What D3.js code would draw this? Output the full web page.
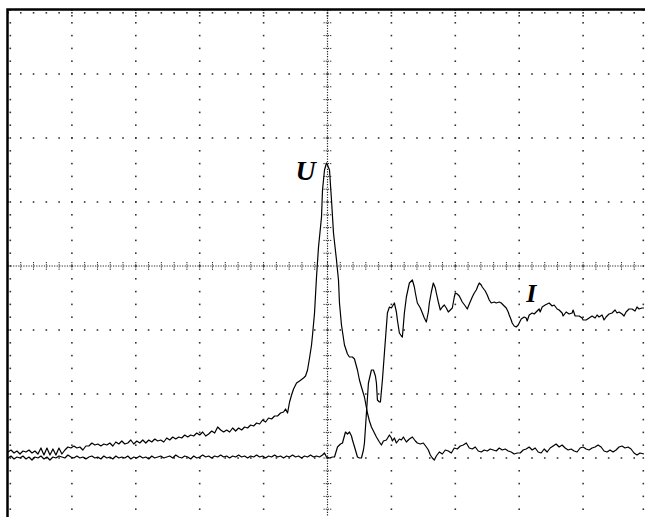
<!DOCTYPE html>
<html>
<head>
<meta charset="utf-8">
<script src="https://cdnjs.cloudflare.com/ajax/libs/d3/7.8.5/d3.min.js"></script>
<style>
  body { margin: 0; background: #fff; overflow: hidden; }
  .trace { fill: none; stroke: #000; stroke-width: 1.2; stroke-linejoin: round; }
  .trace-label { font-family: "Liberation Serif", "Times New Roman", serif; font-style: italic; font-weight: bold; fill: #000; }
  .frame { fill: none; stroke: #000; stroke-width: 2.5; }
  .dot { fill: #333; }
</style>
</head>
<body>
<div id="scope-area"></div>
<script>
// Record: 640 samples over 10 divisions, 10 bit ADC (128 codes per division, 512 = centre)

// U channel [sample, code]
var traceU = [
  [0,140],[3,144],[6,138],[9,142],[12,136],[15,142],[18,140],[21,144],[24,138],[27,142],
  [30,136],[33,148],[36,134],[39,148],[42,134],[45,146],[48,134],[51,148],[54,136],[57,144],
  [60,150],[63,148],[66,152],[69,148],[72,150],[75,144],[78,152],[81,152],[84,158],[87,154],
  [90,156],[93,152],[96,156],[99,154],[102,158],[105,152],[108,160],[111,156],[114,162],[117,156],
  [120,158],[123,164],[126,156],[129,162],[132,158],[135,164],[138,158],[141,164],[144,160],[147,166],
  [150,162],[153,164],[156,160],[159,168],[162,164],[165,170],[168,166],[171,170],[174,168],[177,174],
  [180,170],[183,174],[186,172],[189,178],[192,174],[195,180],[198,172],[201,176],[204,182],[207,178],
  [210,190],[213,184],[216,180],[219,184],[222,180],[225,188],[228,182],[231,188],[234,184],[237,190],
  [240,188],[243,194],[246,192],[249,198],[252,196],[255,204],[258,200],[261,208],[264,206],[267,212],
  [270,212],[273,218],[276,220],[278,226],[280,218],[282,240],[284,254],[286,266],[289,278],[292,282],
  [296,288],[298,292],[300,304],[302,328],[304,354],[305,374],[307,418],[309,490],[311,550],[314,610],
  [315,664],[317,704],[319,718],[320,714],[322,704],[324,644],[326,578],[329,524],[331,484],[332,438],
  [334,394],[337,354],[340,336],[342,330],[345,330],[347,326],[350,304],[352,284],[354,270],[357,250],
  [360,218],[362,202],[364,190],[367,178],[369,170],[372,160],[374,154],[376,162],[379,164],[382,174],
  [384,168],[385,162],[387,168],[389,158],[392,166],[394,164],[396,170],[399,160],[402,166],[405,170],
  [408,162],[410,158],[413,156],[416,158],[419,150],[421,144],[423,134],[425,128],[427,124],[429,132],
  [432,140],[435,136],[438,144],[441,142],[444,138],[447,148],[450,146],[453,152],[456,154],[459,158],
  [462,148],[465,146],[468,150],[471,142],[474,140],[477,144],[480,142],[483,146],[486,144],[489,142],
  [492,148],[495,144],[498,146],[501,142],[504,140],[507,136],[510,138],[513,138],[516,144],[519,146],
  [522,150],[525,144],[528,148],[531,140],[534,138],[537,146],[540,140],[543,148],[546,152],[549,156],
  [552,150],[555,154],[558,148],[561,144],[564,146],[567,142],[570,140],[573,148],[576,150],[579,146],
  [582,144],[585,148],[588,150],[591,154],[594,150],[597,142],[600,140],[603,144],[606,140],[609,144],
  [612,150],[615,152],[618,148],[621,150],[624,146],[627,138],[630,134],[633,138],[637,136]
];

// I channel [sample, code]
var traceI = [
  [0,128],[3,132],[6,126],[9,130],[12,128],[15,132],[18,126],[21,130],[24,124],[27,130],
  [30,128],[33,132],[36,126],[39,130],[42,124],[45,130],[48,128],[51,132],[54,130],[57,128],
  [60,134],[63,130],[66,128],[69,132],[72,128],[75,130],[78,126],[81,130],[84,132],[87,128],
  [90,130],[93,126],[96,132],[99,128],[102,130],[105,126],[108,132],[111,128],[114,130],[117,128],
  [120,132],[123,126],[126,130],[129,128],[132,132],[135,128],[138,130],[141,126],[144,132],[147,128],
  [150,130],[153,132],[156,128],[159,130],[162,132],[165,128],[168,134],[171,130],[174,128],[177,132],
  [180,130],[183,126],[186,132],[189,128],[192,130],[195,134],[198,130],[201,132],[204,128],[207,132],
  [210,130],[213,134],[216,130],[219,132],[222,128],[225,132],[228,130],[231,134],[234,130],[237,132],
  [240,128],[243,132],[246,130],[249,134],[252,130],[255,132],[258,128],[261,132],[264,130],[267,134],
  [270,130],[273,132],[276,128],[279,132],[282,130],[285,134],[288,130],[291,132],[294,128],[297,132],
  [300,130],[303,134],[306,130],[309,132],[312,130],[315,134],[317,138],[319,130],[322,128],[325,130],
  [327,130],[330,150],[333,156],[335,158],[338,180],[340,176],[342,180],[344,172],[345,164],[348,144],
  [350,130],[352,128],[354,128],[356,144],[357,158],[359,218],[361,278],[364,304],[366,304],[368,292],
  [369,278],[370,244],[372,240],[373,240],[375,284],[377,338],[380,418],[382,430],[384,428],[387,438],
  [389,420],[390,404],[392,378],[394,372],[395,370],[397,418],[399,450],[402,478],[405,484],[407,470],
  [408,458],[410,438],[413,428],[415,418],[417,408],[419,400],[421,420],[422,438],[424,460],[426,478],
  [428,468],[429,458],[431,440],[433,424],[435,430],[437,434],[439,428],[441,420],[443,424],[445,428],
  [447,450],[448,458],[450,456],[452,452],[455,440],[458,432],[460,426],[462,436],[465,450],[467,458],
  [469,464],[471,474],[472,478],[474,474],[475,470],[478,462],[480,454],[482,444],[484,438],[487,440],
  [489,438],[492,440],[494,438],[497,432],[499,428],[501,420],[502,414],[504,404],[505,398],[507,392],
  [509,390],[511,394],[512,398],[514,406],[517,410],[519,408],[520,402],[522,414],[525,418],[527,416],
  [529,420],[532,426],[533,420],[535,430],[538,434],[540,436],[542,438],[545,432],[547,434],[550,426],
  [552,424],[555,418],[556,412],[559,420],[562,416],[565,418],[566,424],[568,412],[572,412],[575,408],
  [576,404],[579,404],[582,408],[585,412],[588,408],[590,414],[592,410],[595,414],[597,404],[599,410],
  [602,416],[605,418],[608,424],[610,418],[612,420],[615,416],[617,412],[619,420],[622,426],[625,426],
  [628,422],[630,430],[632,426],[635,428],[637,428]
];

var channelNames = ["U", "I"];
// label anchor [sample, code] for each channel name
var labelAnchors = [[288, 684], [519, 440]];

/*
 * Scope - Object constructor function
 * @param _parentElement  -- the HTML element in which to draw the screen
 * @param _traces         -- list of traces
 */
Scope = function(_parentElement, _traces){
  this.parentElement = _parentElement;
  this.traces = _traces;
  this.initVis();
}

Scope.prototype.initVis = function(){
  var vis = this;

  vis.width = 645;
  vis.height = 517;
  vis.divX = 10;
  vis.divY = 8;
  vis.minor = 5;

  vis.svg = d3.select("#" + vis.parentElement).append("svg")
    .attr("width", vis.width)
    .attr("height", vis.height)
    .style("display", "block");

  // Scales (screen spans 8..647 horizontally, 10..522 vertically)
  vis.x = d3.scaleLinear().domain([0, 640]).range([8, 647]);
  vis.y = d3.scaleLinear().domain([0, 1024]).range([522, 10]);

  vis.line = d3.line()
    .x(d => vis.x(d[0]))
    .y(d => vis.y(d[1]));

  vis.drawGrid();
  vis.updateVis();
}

/*
 * Graticule: dotted divisions, centre axes with ticks, frame
 */
Scope.prototype.drawGrid = function(){
  var vis = this;
  var g = vis.svg.append("g").attr("class", "grid");

  var colStep = 640 / vis.divX;     // samples per division
  var rowStep = 1024 / vis.divY;    // codes per division

  var minorT = d3.range(0, vis.divX * vis.minor + 1).map(i => i * colStep / vis.minor);
  var minorC = d3.range(0, vis.divY * vis.minor + 1).map(i => i * rowStep / vis.minor);

  // dots on vertical grid lines
  d3.range(1, vis.divX).filter(k => k != vis.divX / 2).forEach(function(k){
    g.selectAll(null).data(minorC).enter().append("rect")
      .attr("class", "dot")
      .attr("x", vis.x(k * colStep) - 0.8)
      .attr("y", d => vis.y(d) - 0.8)
      .attr("width", 1.6).attr("height", 1.6);
  });
  // dots on horizontal grid lines
  d3.range(1, vis.divY).filter(k => k != vis.divY / 2).forEach(function(k){
    g.selectAll(null).data(minorT).enter().append("rect")
      .attr("class", "dot")
      .attr("x", d => vis.x(d) - 0.8)
      .attr("y", vis.y(k * rowStep) - 0.8)
      .attr("width", 1.6).attr("height", 1.6);
  });

  // frame ticks just inside the border
  g.selectAll(null).data(minorT).enter().append("rect")
    .attr("class", "dot")
    .attr("x", d => vis.x(d) - 0.8)
    .attr("y", vis.y(1024) + 2)
    .attr("width", 1.6).attr("height", 1.6);
  g.selectAll(null).data(minorC).enter().append("rect")
    .attr("class", "dot")
    .attr("x", vis.x(0) + 1.5)
    .attr("y", d => vis.y(d) - 0.8)
    .attr("width", 1.6).attr("height", 1.6);
  g.selectAll(null).data(minorC).enter().append("rect")
    .attr("class", "dot")
    .attr("x", vis.x(640) - 4.5)
    .attr("y", d => vis.y(d) - 0.8)
    .attr("width", 1.6).attr("height", 1.6);
  // little double marks at each major column below the top border
  g.selectAll(null).data(d3.range(1, vis.divX)).enter().append("rect")
    .attr("class", "dot")
    .attr("x", d => vis.x(d * colStep) - 0.8)
    .attr("y", vis.y(1024) + 5)
    .attr("width", 1.6).attr("height", 1.6);

  // centre axes: dense dotted lines
  var cx = vis.x(320), cy = vis.y(512);
  g.append("line")
    .attr("x1", cx).attr("x2", cx)
    .attr("y1", vis.y(1024)).attr("y2", vis.y(0))
    .attr("stroke", "#222").attr("stroke-width", 1.2)
    .attr("stroke-dasharray", "1.2,1.36");
  g.append("line")
    .attr("x1", vis.x(0)).attr("x2", vis.x(640))
    .attr("y1", cy).attr("y2", cy)
    .attr("stroke", "#222").attr("stroke-width", 1.2)
    .attr("stroke-dasharray", "1.2,1.36");

  // centre axis ticks
  g.selectAll(null).data(minorC).enter().append("line")
    .attr("x1", cx - 4).attr("x2", cx + 4)
    .attr("y1", d => vis.y(d)).attr("y2", d => vis.y(d))
    .attr("stroke", "#222").attr("stroke-width", 1)
    .attr("stroke-dasharray", "1.2,1");
  g.selectAll(null).data(minorT).enter().append("line")
    .attr("x1", d => vis.x(d)).attr("x2", d => vis.x(d))
    .attr("y1", cy - 4).attr("y2", cy + 4)
    .attr("stroke", "#222").attr("stroke-width", 1)
    .attr("stroke-dasharray", "1.2,1");

  // frame
  g.append("rect")
    .attr("class", "frame")
    .attr("x", vis.x(0) - 0.5)
    .attr("y", vis.y(1024) - 0.5)
    .attr("width", vis.x(640) - vis.x(0) + 1)
    .attr("height", vis.y(0) - vis.y(1024) + 1);
}

/*
 *  The drawing function
 */
Scope.prototype.updateVis = function(){
  var vis = this;

  vis.svg.selectAll(".trace")
    .data(vis.traces)
    .enter()
    .append("path")
    .attr("class", "trace")
    .attr("d", d => vis.line(d));

  // channel labels
  vis.svg.selectAll(".trace-label")
    .data(channelNames)
    .enter()
    .append("text")
    .attr("class", "trace-label")
    .attr("x", (d, i) => vis.x(labelAnchors[i][0]))
    .attr("y", (d, i) => vis.y(labelAnchors[i][1]))
    .attr("font-size", (d, i) => i == 0 ? 28 : 26)
    .text(d => d);
}

var scope = new Scope("scope-area", [traceU, traceI]);
</script>
</body>
</html>
